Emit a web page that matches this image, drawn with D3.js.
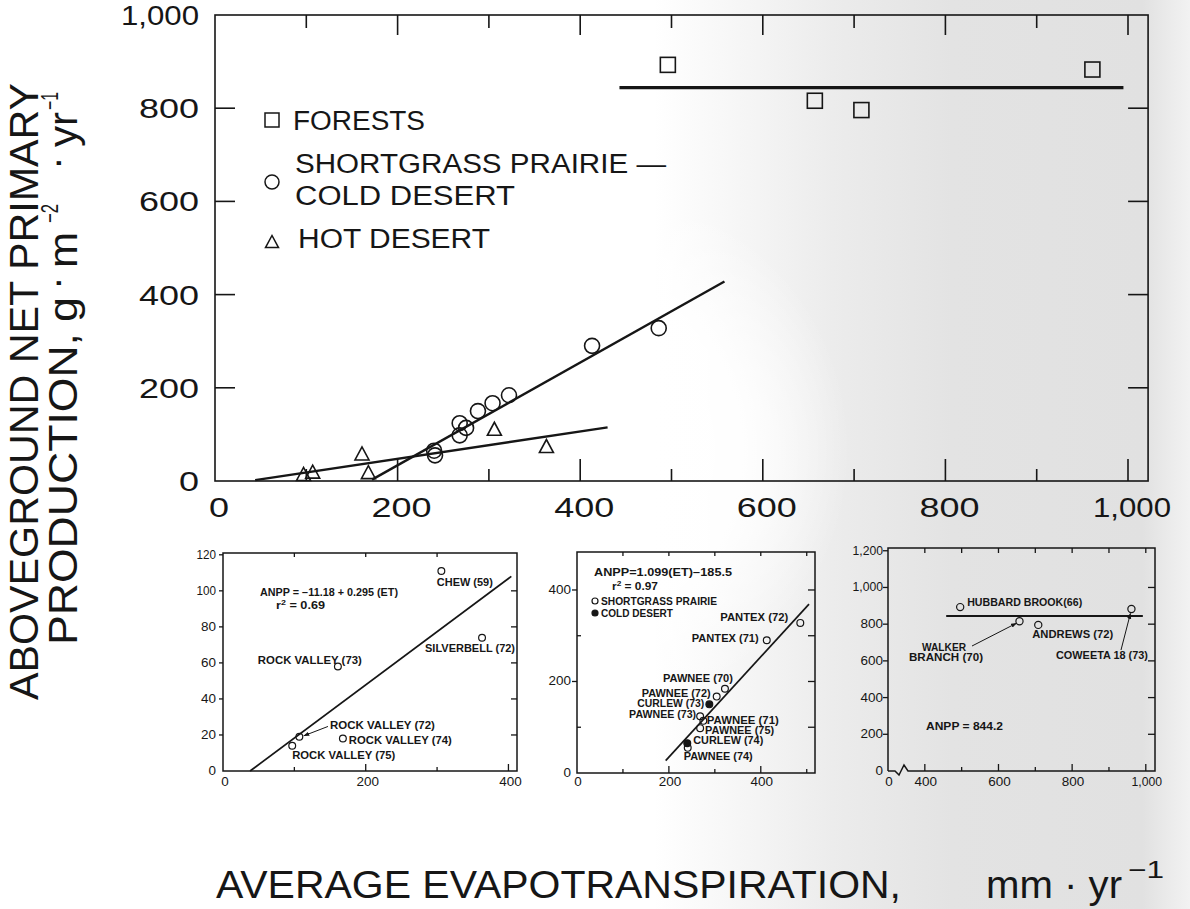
<!DOCTYPE html>
<html><head><meta charset="utf-8">
<script src="https://cdn.jsdelivr.net/npm/d3@7"></script>
<style>
html,body{margin:0;padding:0;background:#fff;}
svg{display:block;}
text{font-family:"Liberation Sans",Arial,sans-serif;fill:#161616;}
</style></head><body>
<svg id="chart" width="1190" height="909"></svg>
<script>
// ================= DATA =================
const mainXTicks = [0, 200, 400, 600, 800, 1000];
const mainYTicks = [0, 200, 400, 600, 800, 1000];

const forestSites = ["HUBBARD BROOK(66)", "WALKER BRANCH (70)", "ANDREWS (72)", "COWEETA 18 (73)"];
const forestET    = [496, 657, 708, 961];
const forestANPP  = [893, 816, 796, 883];

const prairieSites = ["PANTEX (72)", "PANTEX (71)", "PAWNEE (70)", "PAWNEE (72)", "CURLEW (73)",
                      "PAWNEE (73)", "PAWNEE (71)", "PAWNEE (75)", "CURLEW (74)", "PAWNEE (74)"];
const prairieET    = [486, 413, 322, 304, 288, 268, 275, 268, 240, 241];
const prairieANPP  = [328, 290, 184, 167, 150, 124, 114, 98, 65, 55];
const prairieType  = ["prairie", "prairie", "prairie", "prairie", "cold",
                      "prairie", "prairie", "prairie", "cold", "prairie"];

const hotSites = ["CHEW (59)", "SILVERBELL (72)", "ROCK VALLEY (73)", "ROCK VALLEY (72)", "ROCK VALLEY (74)", "ROCK VALLEY (75)"];
const hotET    = [306, 363, 161, 107, 168, 97];
const hotANPP  = [111, 74, 58, 19, 18, 14];

// regression lines (end points)
const mainHotLineET = [44, 430],   mainHotLineANPP = [2, 115];
const mainPrairieLineET = [172, 558], mainPrairieLineANPP = [3, 428];
const mainForestLineET = [443, 995],  mainForestLineANPP = [844.2, 844.2];
const panelHotLineET = [38, 404],  panelHotLineANPP = [0, 108];
const panelPrairieLineET = [193, 505], panelPrairieLineANPP = [27, 369];
const panelForestLineET = [458, 992],  panelForestLineANPP = [844.2, 844.2];

const panel1YTicks = [0, 20, 40, 60, 80, 100, 120];
const panel1XTicks = [0, 200, 400];
const panel2YTicks = [0, 200, 400];
const panel2XTicks = [0, 200, 400];
const panel3YTicks = [0, 200, 400, 600, 800, 1000, 1200];
const panel3XTicks = [400, 600, 800, 1000];

const legendLabels = ["FORESTS", "SHORTGRASS PRAIRIE —", "COLD DESERT", "HOT DESERT"];
const hotEquation = "ANPP = −11.18 + 0.295 (ET)";
const hotR2 = "0.69";
const prairieEquation = "ANPP=1.099(ET)−185.5";
const prairieR2 = "0.97";
const panel2Legend = ["SHORTGRASS PRAIRIE", "COLD DESERT"];
const forestEquation = "ANPP = 844.2";
const yTitle1 = "ABOVEGROUND NET PRIMARY";
const xTitle = "AVERAGE EVAPOTRANSPIRATION,";

// ================= LAYOUT (label placement, not data) =================
const hotLabelLayout = [
  {dx: -4.5, dy: 14.5, w: 56},
  {dx: -57, dy: 14, w: 90},
  {dx: -80, dy: -3, w: 104},
  {dx: 30.6, dy: -7.3, w: 105, arrow: true},
  {dx: 6, dy: 5, w: 103},
  {dx: 0, dy: 13.7, w: 103}
];
const prairieLabelLayout = [
  {dx: -12, dy: -2.4, anchor: "end", w: 68},
  {dx: -8, dy: 2, anchor: "end", w: 67},
  {dx: 8, dy: -7, anchor: "end", w: 70},
  {dx: -6, dy: 0, anchor: "end", w: 69},
  {dx: -5, dy: 3, anchor: "end", w: 67},
  {dx: -4, dy: 2, anchor: "end", w: 67},
  {dx: 3.5, dy: 3, anchor: "start", w: 72},
  {dx: 5, dy: 6, anchor: "start", w: 69},
  {dx: 6, dy: 1, anchor: "start", w: 70},
  {dx: -4, dy: 12, anchor: "start", w: 69}
];

// ================= DRAW =================
const ink = "#161616";
const svg = d3.select("#chart");
const defs = svg.append("defs");

// scan-like background shading
const lg = defs.append("linearGradient").attr("id", "bgGrad")
  .attr("x1", 0).attr("x2", 1).attr("y1", 0).attr("y2", 0);
[[0, "#ffffff"], [0.55, "#ffffff"], [0.7, "#ececec"], [0.8, "#e3e3e3"], [0.96, "#e1e1e1"], [0.985, "#ececec"], [1, "#f2f2f2"]]
  .forEach(([o, c]) => lg.append("stop").attr("offset", o).attr("stop-color", c));
svg.append("rect").attr("width", 1190).attr("height", 909).attr("fill", "url(#bgGrad)");
const rg = defs.append("radialGradient").attr("id", "whiteBlob")
  .attr("gradientUnits", "userSpaceOnUse").attr("cx", 580).attr("cy", 450).attr("r", 270);
[[0, "#ffffff", 1], [0.6, "#ffffff", 0.9], [1, "#ffffff", 0]]
  .forEach(([o, c, a]) => rg.append("stop").attr("offset", o).attr("stop-color", c).attr("stop-opacity", a));
svg.append("rect").attr("width", 1190).attr("height", 909).attr("fill", "url(#whiteBlob)");

defs.append("marker").attr("id", "arr").attr("viewBox", "0 0 10 10")
  .attr("refX", 9).attr("refY", 5).attr("markerWidth", 6).attr("markerHeight", 6)
  .attr("orient", "auto").append("path").attr("d", "M0,1.5L10,5L0,8.5z").attr("fill", ink);

function addText(parent, s, x, y, o = {}) {
  const t = parent.append("text").attr("x", x).attr("y", y).text(s)
    .attr("font-size", o.size || 12).attr("text-anchor", o.anchor || "start");
  if (o.weight) t.attr("font-weight", o.weight);
  if (o.w) t.attr("textLength", o.w).attr("lengthAdjust", "spacingAndGlyphs");
  return t;
}
const fmt = d3.format(",");
const bigW = s => [...s].reduce((a, c) => a + (c === "1" ? 9 : c === "," ? 9 : 20), 0);
const smallW = s => [...s].reduce((a, c) => a + (c === "1" ? 4.5 : c === "," ? 3.5 : 7.5), 0);
const line = (g, x1, y1, x2, y2, sw) => g.append("line").attr("x1", x1).attr("y1", y1)
  .attr("x2", x2).attr("y2", y2).attr("stroke", ink).attr("stroke-width", sw || 1.6);
const triPath = (x, y, s) => `M${x - s / 2},${y + s * 0.43}L${x + s / 2},${y + s * 0.43}L${x},${y - s * 0.5}Z`;

// ---------- main plot ----------
const gM = svg.append("g");
const xM = d3.scaleLinear().domain([0, 1000]).range([215, 1128]);
const yM = d3.scaleLinear().domain([0, 1000]).range([481, 15]);
const mL = xM(0), mR = xM(1022), mT = yM(1000), mB = yM(0);
gM.append("rect").attr("x", mL).attr("y", mT).attr("width", mR - mL).attr("height", mB - mT)
  .attr("fill", "none").attr("stroke", ink).attr("stroke-width", 1.6);
d3.range(100, 1001, 100).forEach(v => {
  const long = v % 200 === 0;
  line(gM, xM(v), mB, xM(v), mB - (long ? 22 : 12));
  line(gM, xM(v), mT, xM(v), mT + (long ? 20 : 13));
});
[200, 400, 600, 800].forEach(v => {
  line(gM, mL, yM(v), mL + 20, yM(v));
  line(gM, mR, yM(v), mR - 20, yM(v));
});
mainYTicks.forEach(v => addText(gM, fmt(v), 199, yM(v) + 10, {size: 28, anchor: "end", w: bigW(fmt(v))}));
mainXTicks.forEach(v => addText(gM, fmt(v), xM(v) + 4, 517, {size: 28, anchor: "middle", w: bigW(fmt(v))}));

// regression lines
const lineGen = (xs, ys) => d3.line().x(d => xs(d[0])).y(d => ys(d[1]));
const pairs = (a, b) => a.map((d, i) => [d, b[i]]);
gM.append("path").attr("d", lineGen(xM, yM)(pairs(mainHotLineET, mainHotLineANPP)))
  .attr("stroke", ink).attr("stroke-width", 2.4).attr("fill", "none");
gM.append("path").attr("d", lineGen(xM, yM)(pairs(mainPrairieLineET, mainPrairieLineANPP)))
  .attr("stroke", ink).attr("stroke-width", 2.4).attr("fill", "none");
gM.append("path").attr("d", lineGen(xM, yM)(pairs(mainForestLineET, mainForestLineANPP)))
  .attr("stroke", ink).attr("stroke-width", 3.2).attr("fill", "none");

// markers
gM.selectAll(".sq").data(forestET).join("rect")
  .attr("x", (d, i) => xM(d) - 7.5).attr("y", (d, i) => yM(forestANPP[i]) - 7.5)
  .attr("width", 15).attr("height", 15).attr("fill", "none").attr("stroke", ink).attr("stroke-width", 1.6);
gM.selectAll(".ci").data(prairieET).join("circle")
  .attr("cx", d => xM(d)).attr("cy", (d, i) => yM(prairieANPP[i])).attr("r", 7.5)
  .attr("fill", "none").attr("stroke", ink).attr("stroke-width", 1.6);
gM.selectAll(".tr").data(hotET).join("path")
  .attr("d", (d, i) => triPath(xM(d), yM(hotANPP[i]), 14))
  .attr("fill", "none").attr("stroke", ink).attr("stroke-width", 1.6);

// legend
gM.append("rect").attr("x", 265).attr("y", 113).attr("width", 14).attr("height", 14)
  .attr("fill", "none").attr("stroke", ink).attr("stroke-width", 1.5);
gM.append("circle").attr("cx", 272).attr("cy", 182).attr("r", 7)
  .attr("fill", "none").attr("stroke", ink).attr("stroke-width", 1.5);
gM.append("path").attr("d", triPath(272, 242, 13)).attr("fill", "none").attr("stroke", ink).attr("stroke-width", 1.5);
addText(gM, legendLabels[0], 293, 130, {size: 27, w: 132});
addText(gM, legendLabels[1], 295, 173, {size: 27, w: 371});
addText(gM, legendLabels[2], 295, 205, {size: 27, w: 220});
addText(gM, legendLabels[3], 298, 248, {size: 27, w: 192});

// ---------- titles ----------
const gY = svg.append("g").attr("transform", "rotate(-90)");
addText(gY, yTitle1, -700, 38, {size: 40, w: 617});
addText(gY, "PRODUCTION,", -645, 77, {size: 40, w: 312});
addText(gY, "g", -322, 77, {size: 40, w: 25});
addText(gY, "·", -283, 70, {size: 40, anchor: "middle"});
addText(gY, "m", -268, 77, {size: 40, w: 36});
addText(gY, "−2", -223, 58, {size: 24, w: 19});
addText(gY, "·", -163, 70, {size: 40, anchor: "middle"});
addText(gY, "yr", -147, 77, {size: 40, w: 35});
addText(gY, "−1", -110, 58, {size: 24, w: 18});

const gX = svg.append("g");
addText(gX, xTitle, 216, 898, {size: 38, w: 685});
addText(gX, "mm · yr", 986, 898, {size: 38, w: 136});
addText(gX, "−1", 1128, 878, {size: 24, w: 36});

// ---------- panel helper ----------
function panelFrame(g, L, R, T, B) {
  g.append("rect").attr("x", L).attr("y", T).attr("width", R - L).attr("height", B - T)
    .attr("fill", "none").attr("stroke", ink).attr("stroke-width", 1.5);
}
const annot = (g, s, x, y, o = {}) => addText(g, s, x, y, Object.assign({size: 10, weight: 700}, o));

// ---------- panel 1 : hot desert ----------
const g1 = svg.append("g");
const x1 = d3.scaleLinear().domain([0, 412]).range([223, 517]);
const y1 = d3.scaleLinear().domain([0, 121]).range([771, 553]);
panelFrame(g1, x1(0), x1(412), y1(121), y1(0));
[100, 200, 300, 400].forEach(v => line(g1, x1(v), y1(0), x1(v), y1(0) - (v % 200 === 0 ? 7 : 4), 1.3));
[100, 200, 300].forEach(v => line(g1, x1(v), y1(121), x1(v), y1(121) + 4, 1.3));
[20, 40, 60, 80, 100].forEach(v => line(g1, x1(412), y1(v), x1(412) - 6, y1(v), 1.3));
[20, 40, 60, 80, 100, 120].forEach(v => line(g1, x1(0), y1(v), x1(0) - 4, y1(v), 1.3));
panel1YTicks.forEach(v => addText(g1, fmt(v), 216, y1(v) + 4, {size: 12, anchor: "end", w: smallW(fmt(v))}));
panel1XTicks.forEach(v => addText(g1, fmt(v), x1(v) + 2, 786, {size: 12, anchor: "middle", w: smallW(fmt(v))}));
g1.append("path").attr("d", lineGen(x1, y1)(pairs(panelHotLineET, panelHotLineANPP)))
  .attr("stroke", ink).attr("stroke-width", 1.7).attr("fill", "none");
hotET.forEach((d, i) => {
  const px = x1(d), py = y1(hotANPP[i]), L = hotLabelLayout[i];
  g1.append("circle").attr("cx", px).attr("cy", py).attr("r", 3.4)
    .attr("fill", "none").attr("stroke", ink).attr("stroke-width", 1.2);
  annot(g1, hotSites[i], px + L.dx, py + L.dy, {w: L.w});
  if (L.arrow) line(g1, px + L.dx - 2, py + L.dy - 3, px + 4.5, py - 1, 1)
    .attr("marker-end", "url(#arr)");
});
annot(g1, hotEquation, 260, 595.5, {w: 138});
const r1 = g1.append("text").attr("x", 276).attr("y", 608.5).attr("font-size", 10).attr("font-weight", 700)
  .attr("textLength", 49).attr("lengthAdjust", "spacingAndGlyphs");
r1.append("tspan").text("r");
r1.append("tspan").attr("dy", -4).attr("font-size", 7).text("2");
r1.append("tspan").attr("dy", 4).text(" = " + hotR2);

// ---------- panel 2 : shortgrass prairie / cold desert ----------
const g2 = svg.append("g");
const x2 = d3.scaleLinear().domain([0, 518]).range([577, 815]);
const y2 = d3.scaleLinear().domain([0, 483]).range([773, 552]);
panelFrame(g2, x2(0), x2(518), y2(483), y2(0));
[100, 200, 300, 400, 500].forEach(v => line(g2, x2(v), y2(0), x2(v), y2(0) - (v % 200 === 0 ? 7 : 4), 1.3));
[100, 200, 300, 400, 500].forEach(v => line(g2, x2(v), y2(483), x2(v), y2(483) + 4, 1.3));
[100, 200, 300, 400].forEach(v => line(g2, x2(518), y2(v), x2(518) - 7, y2(v), 1.3));
[100, 300].forEach(v => line(g2, x2(0), y2(v), x2(0) + 4, y2(v), 1.3));
[200, 400].forEach(v => line(g2, x2(0), y2(v), x2(0) - 5, y2(v), 1.3));
panel2YTicks.forEach(v => addText(g2, fmt(v), 571, y2(v) + 4, {size: 12, anchor: "end", w: smallW(fmt(v))}));
panel2XTicks.forEach(v => addText(g2, fmt(v), x2(v) + 1, 786, {size: 12, anchor: "middle", w: smallW(fmt(v))}));
g2.append("path").attr("d", lineGen(x2, y2)(pairs(panelPrairieLineET, panelPrairieLineANPP)))
  .attr("stroke", ink).attr("stroke-width", 1.7).attr("fill", "none");
prairieET.forEach((d, i) => {
  const px = x2(d), py = y2(prairieANPP[i]), L = prairieLabelLayout[i];
  g2.append("circle").attr("cx", px).attr("cy", py).attr("r", 3.4)
    .attr("fill", prairieType[i] === "cold" ? ink : "none").attr("stroke", ink).attr("stroke-width", 1.2);
  annot(g2, prairieSites[i], px + L.dx, py + L.dy, {w: L.w, anchor: L.anchor});
});
annot(g2, prairieEquation, 594, 575.5, {w: 138});
const r2 = g2.append("text").attr("x", 612).attr("y", 589.5).attr("font-size", 10).attr("font-weight", 700)
  .attr("textLength", 46).attr("lengthAdjust", "spacingAndGlyphs");
r2.append("tspan").text("r");
r2.append("tspan").attr("dy", -4).attr("font-size", 7).text("2");
r2.append("tspan").attr("dy", 4).text(" = " + prairieR2);
g2.append("circle").attr("cx", 595).attr("cy", 601).attr("r", 3).attr("fill", "none").attr("stroke", ink).attr("stroke-width", 1.2);
annot(g2, panel2Legend[0], 601, 604.5, {w: 116});
g2.append("circle").attr("cx", 595).attr("cy", 613).attr("r", 3).attr("fill", ink).attr("stroke", ink).attr("stroke-width", 1.2);
annot(g2, panel2Legend[1], 601, 616.5, {w: 72});

// ---------- panel 3 : forests ----------
const g3 = svg.append("g");
const x3 = d3.scaleLinear().domain([300, 1025]).range([888, 1155]);
const y3 = d3.scaleLinear().domain([0, 1215]).range([771, 548]);
const L3 = x3(300), R3 = x3(1025), T3 = y3(1215), B3 = y3(0);
g3.append("path").attr("d",
  `M${L3},${B3}L${L3},${T3}L${R3},${T3}L${R3},${B3}L${L3 + 20},${B3}` +
  `L${L3 + 16},${B3 - 6}L${L3 + 11},${B3 + 4}L${L3 + 7},${B3}L${L3},${B3}`)
  .attr("fill", "none").attr("stroke", ink).attr("stroke-width", 1.5).attr("stroke-linejoin", "miter");
d3.range(400, 1001, 100).forEach(v => {
  line(g3, x3(v), B3, x3(v), B3 - (v % 200 === 0 ? 7 : 4), 1.3);
  line(g3, x3(v), T3, x3(v), T3 + 5, 1.3);
});
[200, 400, 600, 800, 1000].forEach(v => line(g3, R3, y3(v), R3 - 7, y3(v), 1.3));
[200, 400, 600, 800, 1000, 1200].forEach(v => line(g3, L3, y3(v), L3 - 5, y3(v), 1.3));
panel3YTicks.forEach(v => addText(g3, fmt(v), 883, y3(v) + 4, {size: 12, anchor: "end", w: smallW(fmt(v))}));
addText(g3, "0", L3 + 1, 786, {size: 12, anchor: "middle", w: smallW("0")});
panel3XTicks.forEach(v => addText(g3, fmt(v), x3(v) + 1, 786, {size: 12, anchor: "middle", w: smallW(fmt(v))}));
g3.append("path").attr("d", lineGen(x3, y3)(pairs(panelForestLineET, panelForestLineANPP)))
  .attr("stroke", ink).attr("stroke-width", 1.9).attr("fill", "none");
forestET.forEach((d, i) => {
  g3.append("circle").attr("cx", x3(d)).attr("cy", y3(forestANPP[i])).attr("r", 3.6)
    .attr("fill", "none").attr("stroke", ink).attr("stroke-width", 1.2);
});
{
  const p = forestET.map((d, i) => [x3(d), y3(forestANPP[i])]);
  annot(g3, forestSites[0], p[0][0] + 7, p[0][1] - 1.5, {w: 115});
  const wb = forestSites[1].split(" ");
  annot(g3, wb[0], 922, 650.5, {w: 44});
  annot(g3, wb.slice(1).join(" "), 909, 660.5, {w: 74});
  line(g3, 972, 646, p[1][0] - 3, p[1][1] + 2, 1).attr("marker-end", "url(#arr)");
  annot(g3, forestSites[2], p[2][0] - 6, p[2][1] + 13.5, {w: 81});
  annot(g3, forestSites[3], 1056, 658.5, {w: 92});
  line(g3, 1121, 650, p[3][0] - 1, p[3][1] + 4.5, 1).attr("marker-end", "url(#arr)");
  annot(g3, forestEquation, 926, 729.5, {w: 77});
}
</script>
</body></html>
